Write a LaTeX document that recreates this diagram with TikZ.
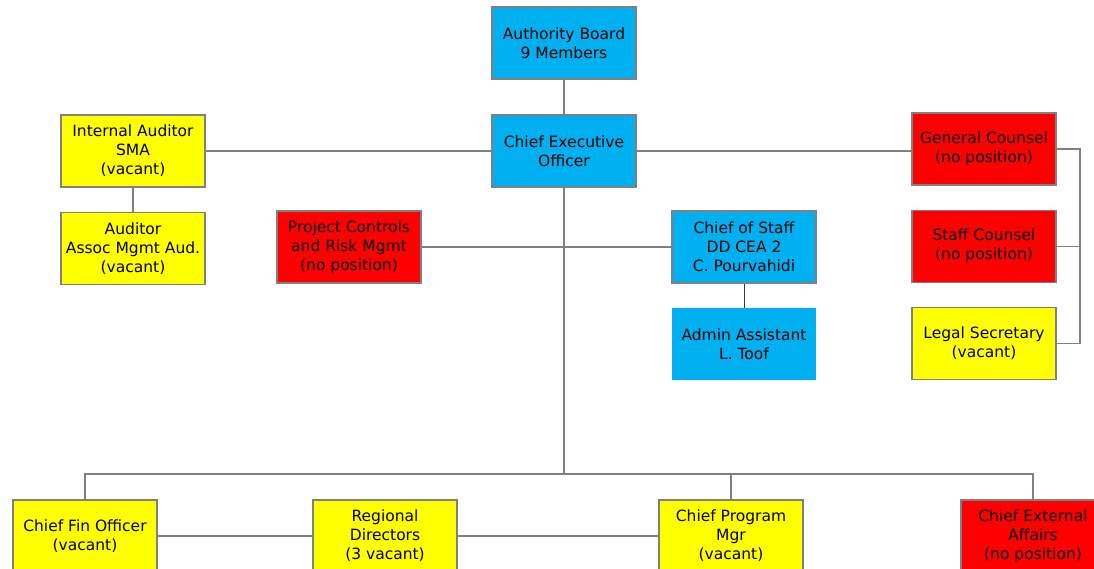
\documentclass[tikz,border=0pt]{standalone}
\usepackage{fontspec}
\setmainfont{DejaVu Sans}
\usetikzlibrary{positioning}
\definecolor{staffblue}{RGB}{0,176,240}
\definecolor{vacyellow}{RGB}{255,255,0}
\definecolor{noposred}{RGB}{255,0,0}
\definecolor{linegray}{RGB}{128,128,128}
\definecolor{darkline}{RGB}{60,60,40}

\begin{document}
\begin{tikzpicture}[x=1pt,y=-1pt,node distance=24pt,
	every node/.style={font=\fontsize{15.5}{19}\selectfont},
	post/.style={draw=linegray,line width=1.2pt,minimum width=144pt,minimum height=72pt,align=center,inner sep=1pt},
	filled/.style={post,fill=staffblue},
	vacant/.style={post,fill=vacyellow},
	nopos/.style={post,fill=noposred},
	link/.style={draw=linegray,line width=1.2pt}]
				\useasboundingbox (0,0) rectangle (1094,568);
				\node[filled]	(board)	at (564,43) {Authority Board\\9 Members};
				\node[filled]	(ceo) at (564,151) {Chief Executive\\Officer};
				\node[vacant]	(ia) at (133,151) {Internal Auditor\\SMA\\(vacant)};
				\node[vacant, below=of ia]	(aud) {Auditor\\Assoc Mgmt Aud.\\(vacant)};
				\node[nopos]	(proj) at (349,247) {Project Controls\\and Risk Mgmt\\(no position)};
				\node[filled]	(cos) at (744,247) {Chief of Staff\\DD CEA 2\\C. Pourvahidi};
				\node[filled, draw=none, below=of cos]	(admin) {Admin Assistant\\L. Toof};
				\node[nopos]	(gc) at (984,149) {General Counsel\\(no position)};
				\node[nopos, below=of gc]	(sc) {Staff Counsel\\(no position)};
				\node[vacant, below=of sc]	(ls) {Legal Secretary\\(vacant)};
				\node[vacant]	(cfo) at (85,536) {Chief Fin Officer\\(vacant)};
				\node[vacant]	(rd) at (385,536) {Regional\\Directors\\(3 vacant)};
				\node[vacant]	(cpm) at (731,536) {Chief Program\\Mgr\\(vacant)};
				\node[nopos]	(cea) at (1033,536) {Chief External\\Affairs\\(no position)};
				\coordinate (busy) at (564,474);
				\coordinate (lbus) at (1080,151);

				\path[link]
				(board) edge (ceo)
				(ia) edge (ceo)
				(ia) edge (aud)
				(proj) edge (cos)
				(cfo) edge (rd)
				(rd) edge (cpm);
				\draw[link] (ceo.east) -- (ceo.east -| gc.west);
				\draw[darkline, line width=1pt] (cos) -- (admin);
				\draw[link] (ceo.south) -- (busy);
				\draw[link] (cfo.north) |- (busy) -| (cea.north);
				\draw[link] (cpm.north) -- (cpm.north |- busy);
				\draw[link] (gc.east) -- (gc.east -| lbus) |- (ls.east);
				\draw[link] (sc.east) -- (sc.east -| lbus);
\end{tikzpicture}
\end{document}
